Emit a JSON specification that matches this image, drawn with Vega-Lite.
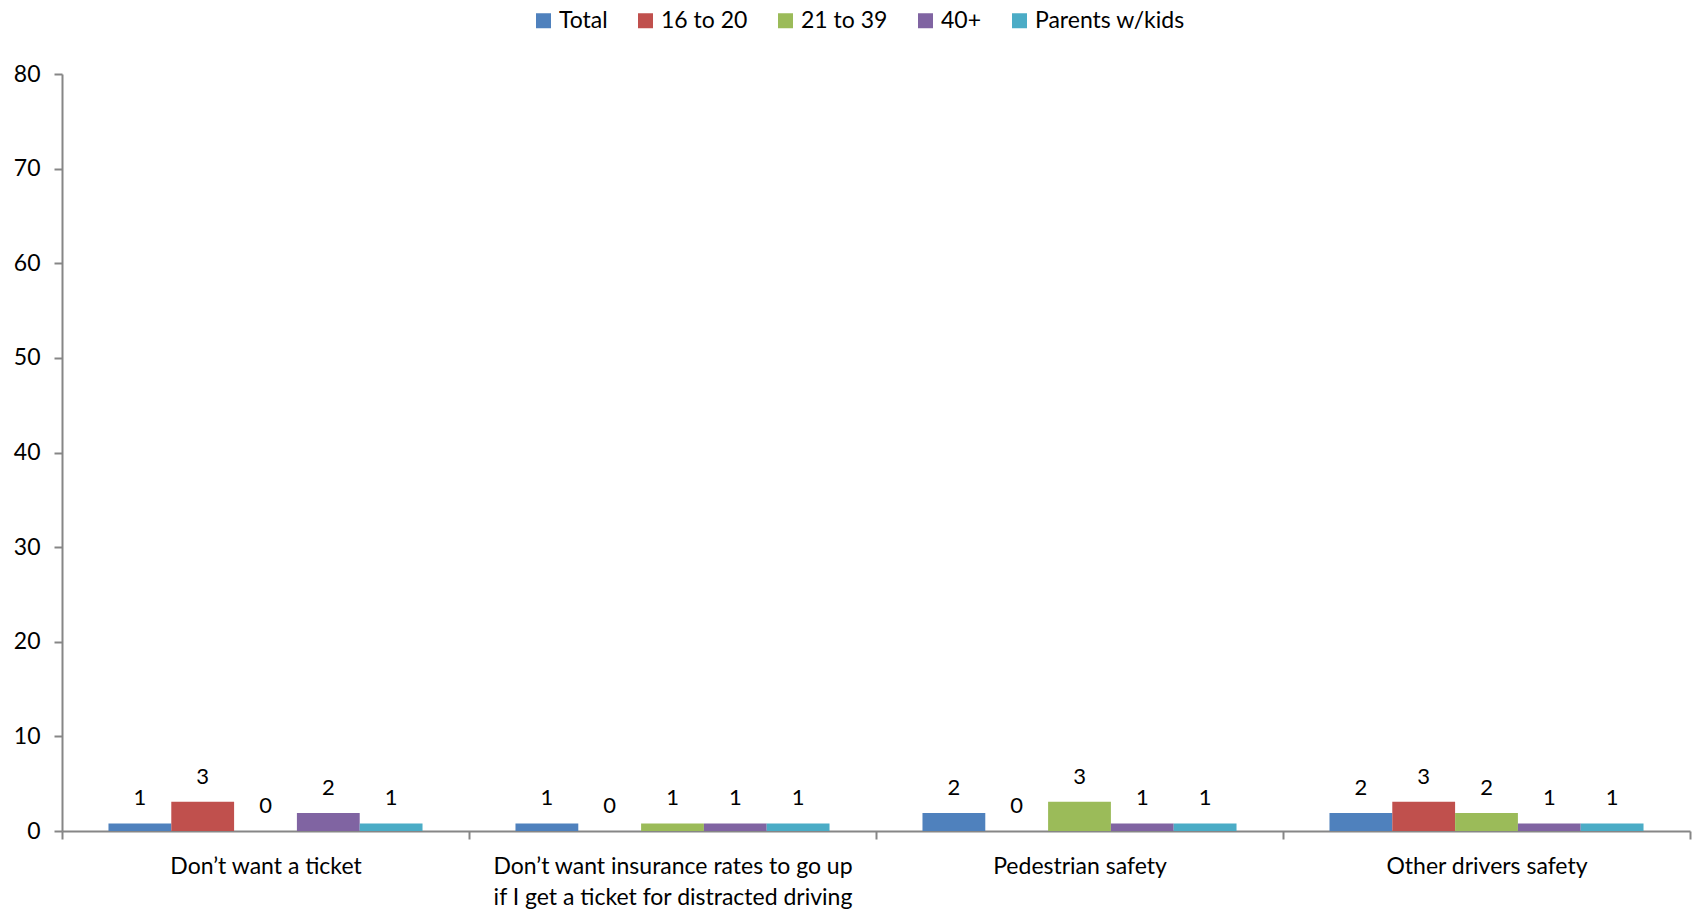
{
  "$schema": "https://vega.github.io/schema/vega-lite/v6.json",
  "autosize": {"type": "none"},
  "padding": {"left": 62, "top": 74, "right": 6, "bottom": 82},
  "width": 1628,
  "height": 757,
  "config": {
    "font": "Lato",
    "view": {"stroke": null},
    "axis": {"labelFont": "Lato", "labelColor": "#000000", "domainColor": "#868686", "tickColor": "#868686", "domainWidth": 2, "tickWidth": 2, "grid": false, "title": null}
  },
  "data": {
    "values": [
      {"reason": "Don’t want a ticket", "group": "Total", "value": 0.8},
      {"reason": "Don’t want a ticket", "group": "16 to 20", "value": 3.1},
      {"reason": "Don’t want a ticket", "group": "21 to 39", "value": 0},
      {"reason": "Don’t want a ticket", "group": "40+", "value": 1.9},
      {"reason": "Don’t want a ticket", "group": "Parents w/kids", "value": 0.8},
      {"reason": "Don’t want insurance rates to go up if I get a ticket for distracted driving", "group": "Total", "value": 0.8},
      {"reason": "Don’t want insurance rates to go up if I get a ticket for distracted driving", "group": "16 to 20", "value": 0},
      {"reason": "Don’t want insurance rates to go up if I get a ticket for distracted driving", "group": "21 to 39", "value": 0.8},
      {"reason": "Don’t want insurance rates to go up if I get a ticket for distracted driving", "group": "40+", "value": 0.8},
      {"reason": "Don’t want insurance rates to go up if I get a ticket for distracted driving", "group": "Parents w/kids", "value": 0.8},
      {"reason": "Pedestrian safety", "group": "Total", "value": 1.9},
      {"reason": "Pedestrian safety", "group": "16 to 20", "value": 0},
      {"reason": "Pedestrian safety", "group": "21 to 39", "value": 3.1},
      {"reason": "Pedestrian safety", "group": "40+", "value": 0.8},
      {"reason": "Pedestrian safety", "group": "Parents w/kids", "value": 0.8},
      {"reason": "Other drivers safety", "group": "Total", "value": 1.9},
      {"reason": "Other drivers safety", "group": "16 to 20", "value": 3.1},
      {"reason": "Other drivers safety", "group": "21 to 39", "value": 1.9},
      {"reason": "Other drivers safety", "group": "40+", "value": 0.8},
      {"reason": "Other drivers safety", "group": "Parents w/kids", "value": 0.8}
    ]
  },
  "encoding": {
    "x": {
      "field": "reason", "type": "nominal", "sort": null,
      "scale": {"paddingInner": 0, "paddingOuter": 0},
      "axis": {
        "labelAngle": 0, "labelFontSize": 23, "tickSize": 8, "tickBand": "extent",
        "labelPadding": 16, "labelBaseline": "top", "labelLineHeight": 31, "labelLimit": 0,
        "labelExpr": "indexof(datum.label, ' if I') > 0 ? ['Don’t want insurance rates to go up', 'if I get a ticket for distracted driving'] : datum.label"
      }
    },
    "xOffset": {
      "field": "group", "type": "nominal",
      "sort": ["Total", "16 to 20", "21 to 39", "40+", "Parents w/kids"],
      "scale": {"paddingInner": 0, "paddingOuter": 0.74}
    },
    "y": {
      "field": "value", "type": "quantitative",
      "scale": {"domain": [0, 80], "nice": false},
      "axis": {"values": [0, 10, 20, 30, 40, 50, 60, 70, 80], "labelFontSize": 23, "tickSize": 8, "labelPadding": 14}
    }
  },
  "layer": [
    {
      "mark": {"type": "bar"},
      "encoding": {
        "color": {
          "field": "group", "type": "nominal",
          "scale": {"domain": ["Total", "16 to 20", "21 to 39", "40+", "Parents w/kids"], "range": ["#4F81BD", "#C0504D", "#9BBB59", "#8064A2", "#4BACC6"]},
          "legend": {
            "title": null, "orient": "none", "direction": "horizontal", "legendX": 470, "legendY": -65,
            "symbolType": "square", "symbolSize": 225, "symbolStrokeWidth": 0, "labelFontSize": 23, "labelFont": "Lato",
            "labelColor": "#000000", "columnPadding": 26, "labelOffset": 4
          }
        }
      }
    },
    {
      "mark": {"type": "text", "baseline": "middle", "dy": -25, "fontSize": 22, "color": "#000000", "font": "Lato"},
      "encoding": {
        "text": {"field": "value", "type": "quantitative", "format": ".0f"}
      }
    }
  ]
}
